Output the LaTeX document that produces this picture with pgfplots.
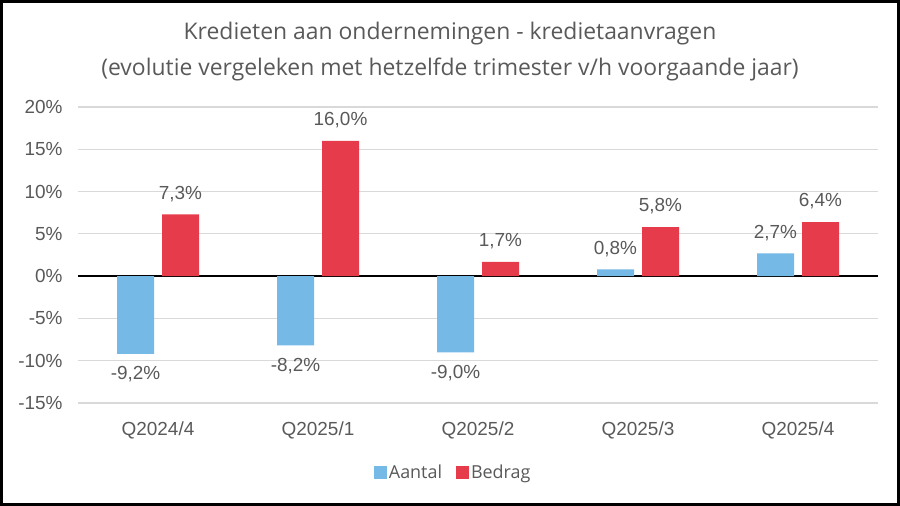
\documentclass[border=0pt]{standalone}
\usepackage{fontspec}
\setmainfont{Liberation Sans}
\newfontfamily\titlefont{Open Sans}
\usepackage{pgfplots}
\pgfplotsset{compat=1.18}
\definecolor{barblue}{HTML}{75B9E7}
\definecolor{barred}{HTML}{E63B4A}
\definecolor{txtgray}{HTML}{595959}
\definecolor{gridgray}{HTML}{D9D9D9}

\begin{document}
\begin{tikzpicture}
\useasboundingbox (0,0) rectangle (900bp,506bp);
\begin{axis}[
  at={(78bp,103bp)}, anchor=south west,
  scale only axis, width=800bp, height=296bp,
  ymin=-15, ymax=20, ytick={-15,-10,...,20},
  xmin=-0.5, xmax=4.5, xtick=data,
  xticklabels={Q2024/4,Q2025/1,Q2025/2,Q2025/3,Q2025/4},
  ybar=8bp, bar width=37bp,
  axis line style={draw=none}, major tick length=0,
  ymajorgrids, grid style={gridgray, line width=1.1bp},
  /pgf/number format/assume math mode=true,
  yticklabel={\pgfmathprintnumber{\tick}\%},
  ticklabel style={font=\fontsize{19}{22}\selectfont, text=txtgray},
  yticklabel style={xshift=-12bp},
  xticklabel style={yshift=-15bp},
  extra y ticks={0}, extra y tick labels={},
  extra y tick style={grid style={black, line width=1.3bp}},
  nodes near coords={\pgfmathprintnumber[use comma,fixed,fixed zerofill,precision=1]{\pgfplotspointmeta}\%},
  nodes near coords align={vertical},
  every node near coord/.append style={font=\fontsize{19}{22}\selectfont, text=txtgray, inner ysep=12.5bp},
  legend columns=2,
  legend style={at={(0.469,-0.236)}, anchor=center, draw=none,
    font=\titlefont\fontsize{18}{20}\selectfont, text=txtgray,
    /tikz/every even column/.append style={column sep=12bp}},
  legend image code/.code={\fill[#1] (0bp,-6.5bp) rectangle (13bp,6.5bp);},
]
\addplot[fill=barblue, draw=none] coordinates {(0,-9.2) (1,-8.2) (2,-9.0) (3,0.8) (4,2.7)};
\addplot[fill=barred, draw=none] coordinates {(0,7.3) (1,16.0) (2,1.7) (3,5.8) (4,6.4)};
\legend{Aantal, Bedrag}
\end{axis}
\node[font=\titlefont\fontsize{23}{26}\selectfont, text=txtgray] at (450bp,472bp) {Kredieten aan ondernemingen - kredietaanvragen};
\node[font=\titlefont\fontsize{23}{26}\selectfont, text=txtgray] at (450bp,437bp) {(evolutie vergeleken met hetzelfde trimester v/h voorgaande jaar)};
\draw[line width=3bp] (1.5bp,1.5bp) rectangle (898.5bp,504.5bp);
\end{tikzpicture}
\end{document}
